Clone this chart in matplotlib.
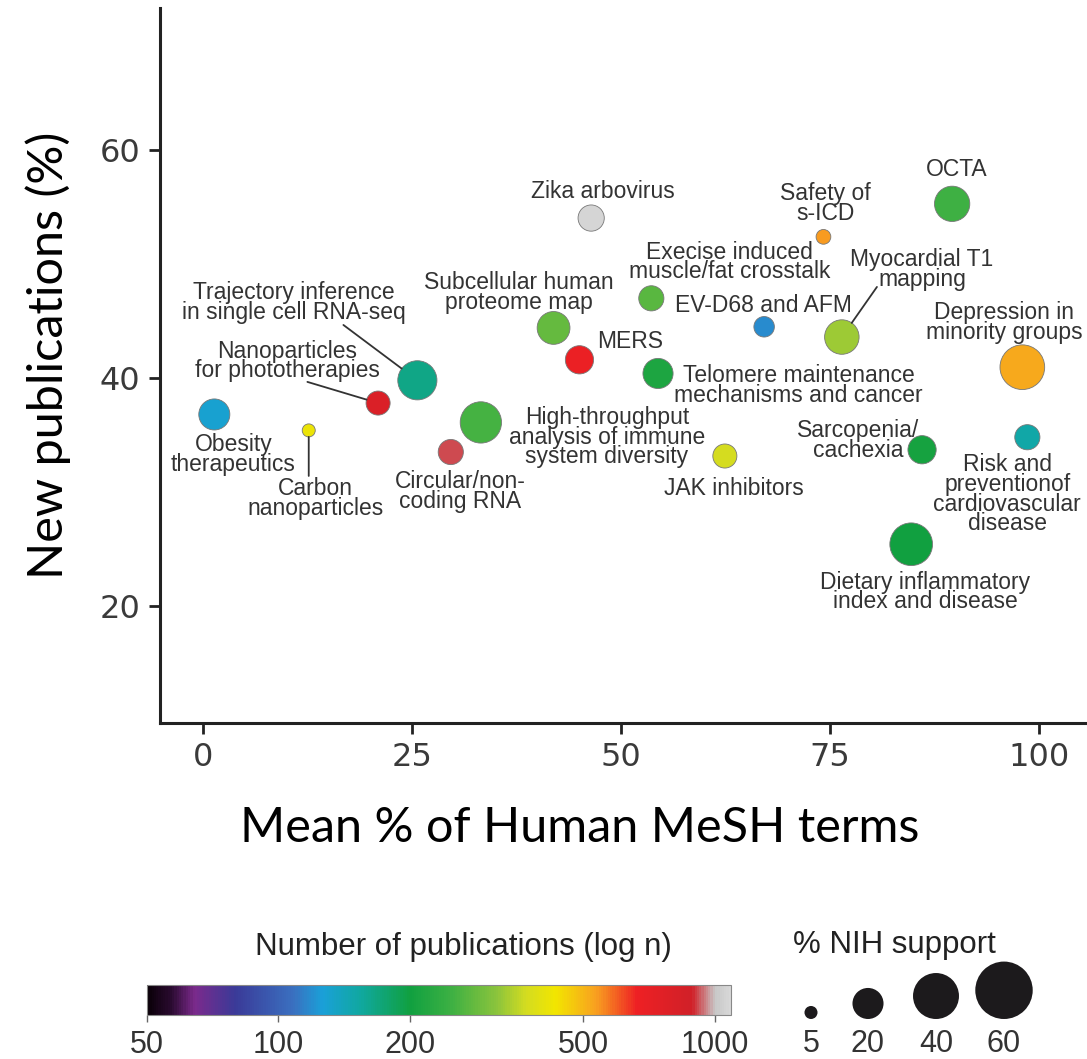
import numpy as np
import matplotlib
matplotlib.use('Agg')
import matplotlib.pyplot as plt
from matplotlib.colors import LinearSegmentedColormap, LogNorm

# Dados
topicos = ['Obesity\ntherapeutics', 'Carbon\nnanoparticles', 'Nanoparticles\nfor phototherapies',
           'Trajectory inference\nin single cell RNA-seq', 'High-throughput\nanalysis of immune\nsystem diversity',
           'Circular/non-\ncoding RNA', 'Zika arbovirus', 'Safety of\ns-ICD',
           'Execise induced\nmuscle/fat crosstalk', 'Subcellular human\nproteome map', 'MERS',
           'EV-D68 and AFM', 'Myocardial T1\nmapping', 'Telomere maintenance\nmechanisms and cancer',
           'JAK inhibitors', 'OCTA', 'Depression in\nminority groups',
           'Risk and\npreventionof\ncardiovascular\ndisease', 'Sarcopenia/\ncachexia',
           'Dietary inflammatory\nindex and disease']
humano_pct = [1.3, 12.6, 20.9, 25.6, 33.2, 29.6, 46.4, 74.2, 53.6, 41.9, 45.0,
              67.1, 76.4, 54.4, 62.4, 89.6, 98.0, 98.6, 86.0, 84.7]
novas_pct = [36.8, 35.4, 37.8, 39.8, 36.1, 33.5, 54.05, 52.4, 47.0, 44.4, 41.6,
             44.5, 43.6, 40.4, 33.15, 55.3, 40.95, 34.8, 33.7, 25.4]
n_pubs = [130, 420, 800, 166, 256, 920, 1070, 537, 272, 281, 687,
          118, 328, 213, 371, 248, 520, 151, 206, 202]
nih_pct = [20, 5, 13, 30, 33, 14, 15, 6, 14, 22, 17, 10, 24, 19, 13, 25, 38, 14, 17, 35]

# Posição dos rótulos (centro do texto)
rotulo_x = [3.6, 13.4, 10.0, 10.8, 48.3, 30.7, 47.8, 74.4, 63.0, 37.7, 51.1,
            67.0, 86.0, 71.2, 63.5, 90.1, 95.8, 96.2, 78.4, 86.4]
rotulo_y = [33.3, 29.4, 41.5, 46.65, 34.8, 30.0, 56.4, 55.36, 50.2, 47.5, 43.2,
            46.4, 49.55, 39.35, 30.3, 58.3, 44.9, 29.8, 34.5, 21.2]
# linhas ligando rótulo ao ponto: indice -> inicio da linha
linhas = {3: (16.75, 44.66), 2: (12.44, 39.66), 1: (12.6, 31.4), 12: (80.6, 48.0)}

legenda_nih = [5, 20, 40, 60]
ticks_cbar = [50, 100, 200, 500, 1000]

cores = [(0.0, '#0a0008'), (0.04, '#2a0a30'), (0.08, '#7b2a8c'), (0.15, '#3a3a98'),
         (0.25, '#3a70c0'), (0.30, '#1aa0d8'), (0.365, '#10a8a0'), (0.45, '#10a040'),
         (0.52, '#3cb043'), (0.60, '#8cc43c'), (0.65, '#d4dc20'), (0.70, '#f2e600'),
         (0.77, '#f8a020'), (0.84, '#ee2024'), (0.935, '#d02028'), (0.975, '#c8c8c8'),
         (1.0, '#d8d8d8')]
cmap = LinearSegmentedColormap.from_list('pubs', cores)
norm = LogNorm(vmin=50, vmax=1090)


def raio_px(v):
    return 4.03 * np.sqrt(np.asarray(v, dtype=float)) - 2.5


def tamanho(v):
    return (2 * raio_px(v) * 0.72) ** 2


plt.rcParams['font.family'] = 'Liberation Sans'

fig = plt.figure(figsize=(10.87, 10.59), dpi=100)
ax = fig.add_axes([160 / 1087, 1 - 723 / 1059, 925 / 1087, 715 / 1059])

ax.scatter(humano_pct, novas_pct, s=tamanho(nih_pct), c=n_pubs, cmap=cmap, norm=norm,
           edgecolors='#777777', linewidths=0.6, zorder=3)

for i, txt in enumerate(topicos):
    ax.text(rotulo_x[i], rotulo_y[i], txt, ha='center', va='center', fontsize=16.5,
            color='#333333', linespacing=0.82, zorder=4)

for i, (lx, ly) in linhas.items():
    ax.annotate('', xy=(humano_pct[i], novas_pct[i]), xytext=(lx, ly),
                arrowprops=dict(arrowstyle='-', color='#333333', lw=1.3,
                                shrinkA=0, shrinkB=float(raio_px(nih_pct[i])) * 0.72))

ax.set_xlim(-5.2, 105.5)
ax.set_ylim(9.7, 72.5)
ax.set_xticks([0, 25, 50, 75, 100])
ax.set_yticks([20, 40, 60])
for lado in ['top', 'right']:
    ax.spines[lado].set_visible(False)
for lado in ['left', 'bottom']:
    ax.spines[lado].set_linewidth(2.2)
    ax.spines[lado].set_color('#222222')
ax.tick_params(length=8, width=2, color='#222222', labelsize=23, labelcolor='#3a3a3a', pad=6)
for lab in ax.get_xticklabels() + ax.get_yticklabels():
    lab.set_family('DejaVu Sans')

fig.text(48 / 1087, 1 - 355 / 1059, 'New publications (%)', rotation=90, ha='center',
         va='center', fontsize=35, family='Lato', color='black')
fig.text(580 / 1087, 1 - 828 / 1059, 'Mean % of Human MeSH terms', ha='center',
         va='center', fontsize=35, family='Lato', color='black')

# Barra de cores
cax = fig.add_axes([147 / 1087, 1 - 1015 / 1059, 584 / 1087, 30 / 1059])
sm = plt.cm.ScalarMappable(norm=norm, cmap=cmap)
cbar = fig.colorbar(sm, cax=cax, orientation='horizontal')
cbar.set_ticks(ticks_cbar)
cbar.set_ticklabels([str(t) for t in ticks_cbar])
cbar.ax.minorticks_off()
cbar.outline.set_edgecolor('#888888')
cbar.outline.set_linewidth(0.8)
cax.tick_params(length=5, width=1, color='#666666', labelsize=22, labelcolor='#333333', pad=6)
fig.text(463 / 1087, 1 - 947 / 1059, 'Number of publications (log n)', ha='center',
         va='center', fontsize=22.5, color='#222222')

# Legenda de tamanho (% NIH)
lax = fig.add_axes([0, 0, 1, 1], zorder=-1)
lax.set_xlim(0, 1087)
lax.set_ylim(1059, 0)
lax.axis('off')
leg_x = [811, 868, 936, 1004]
r_leg = raio_px(legenda_nih)
lax.scatter(leg_x, 1019 - r_leg, s=tamanho(legenda_nih), color='#1c1a1c', edgecolors='none')
for xx, v in zip(leg_x, legenda_nih):
    lax.text(xx, 1044, str(v), ha='center', va='center', fontsize=22, color='#333333')
lax.text(894, 945, '% NIH support', ha='center', va='center', fontsize=22.5, color='#222222')

fig.savefig('out.png', dpi=100)
